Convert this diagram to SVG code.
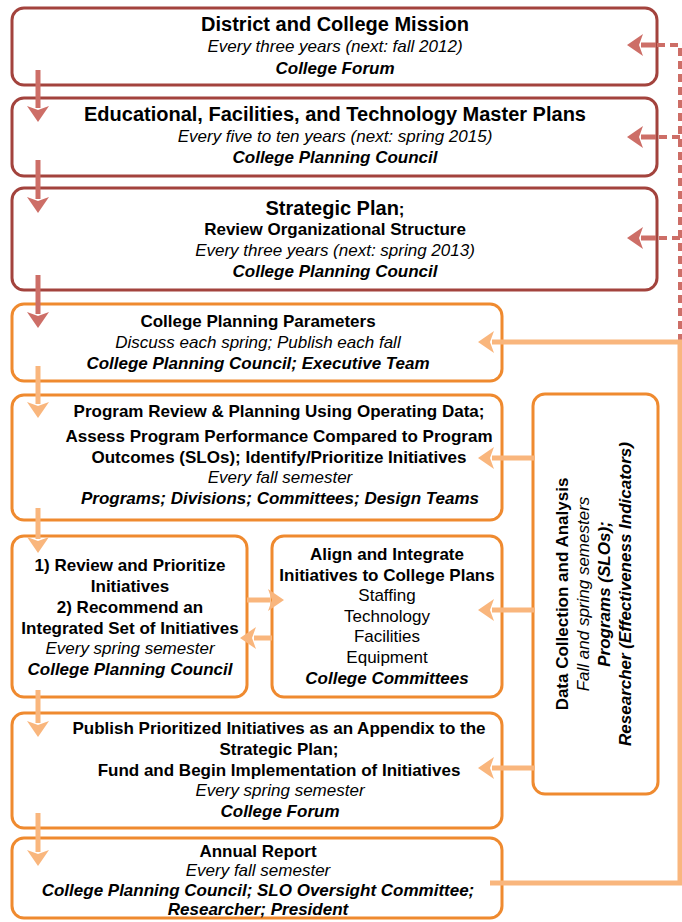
<svg xmlns="http://www.w3.org/2000/svg" width="682" height="922" viewBox="0 0 682 922">
<defs>
<style>
.red{fill:#fff;stroke:#a3433d;stroke-width:3}
.org{fill:#fff;stroke:#ef8a2f;stroke-width:3}
text{font-family:"Liberation Sans",Arial,sans-serif;font-size:17px;fill:#000;text-anchor:middle}
.t{font-size:20px;font-weight:bold}
.b{font-weight:bold}
.i{font-style:italic}
.bi{font-weight:bold;font-style:italic}
.ra{stroke:#cd6e67;stroke-width:5;fill:none}
.oa{stroke:#f9b67d;stroke-width:5;fill:none}
.dash{stroke:#cd6e67;stroke-width:4;fill:none;stroke-dasharray:8 5}
</style>
<marker id="mr" markerUnits="userSpaceOnUse" markerWidth="16" markerHeight="22" viewBox="0 0 16 22" refX="2" refY="11" orient="auto">
<path d="M0,0 L16,11 L0,22 L4,11 Z" fill="#cd6e67"/>
</marker>
<marker id="mo" markerUnits="userSpaceOnUse" markerWidth="16" markerHeight="22" viewBox="0 0 16 22" refX="2" refY="11" orient="auto">
<path d="M0,0 L16,11 L0,22 L4,11 Z" fill="#f9b67d"/>
</marker>
</defs>

<g id="n1">
<rect class="red" x="12" y="8" width="645" height="77" rx="12"/>
<text class="t" x="335" y="31">District and College Mission</text>
<text class="i" x="335" y="52">Every three years (next: fall 2012)</text>
<text class="bi" x="335" y="74">College Forum</text>
</g>
<g id="n2">
<rect class="red" x="12" y="98" width="645" height="78" rx="12"/>
<text class="t" x="335" y="121">Educational, Facilities, and Technology Master Plans</text>
<text class="i" x="335" y="142">Every five to ten years (next: spring 2015)</text>
<text class="bi" x="335" y="163">College Planning Council</text>
</g>
<g id="n3">
<rect class="red" x="12" y="188" width="645" height="102" rx="12"/>
<text x="335" y="215"><tspan class="t">Strategic Plan</tspan><tspan class="b">;</tspan></text>
<text class="b" x="335" y="235">Review Organizational Structure</text>
<text class="i" x="335" y="256">Every three years (next: spring 2013)</text>
<text class="bi" x="335" y="277">College Planning Council</text>
</g>
<g id="n4">
<rect class="org" x="12" y="304" width="490" height="77" rx="12"/>
<text class="b" x="258" y="327">College Planning Parameters</text>
<text class="i" x="258" y="348">Discuss each spring; Publish each fall</text>
<text class="bi" x="258" y="369">College Planning Council; Executive Team</text>
</g>
<g id="n5">
<rect class="org" x="12" y="395" width="490" height="125" rx="12"/>
<text class="b" x="279" y="417">Program Review &amp; Planning Using Operating Data;</text>
<text class="b" x="279" y="442">Assess Program Performance Compared to Program</text>
<text class="b" x="279" y="463">Outcomes (SLOs); Identify/Prioritize Initiatives</text>
<text class="i" x="280" y="483">Every fall semester</text>
<text class="bi" x="280" y="504">Programs; Divisions; Committees; Design Teams</text>
</g>
<g id="n6">
<rect class="org" x="12" y="536" width="235" height="161" rx="12"/>
<text class="b" x="130" y="571">1) Review and Prioritize</text>
<text class="b" x="130" y="592">Initiatives</text>
<text class="b" x="130" y="613">2) Recommend an</text>
<text class="b" x="130" y="634">Integrated Set of Initiatives</text>
<text class="i" x="130" y="654">Every spring semester</text>
<text class="bi" x="130" y="675">College Planning Council</text>
</g>
<g id="n7">
<rect class="org" x="272" y="536" width="230" height="161" rx="12"/>
<text class="b" x="387" y="560">Align and Integrate</text>
<text class="b" x="387" y="581">Initiatives to College Plans</text>
<text x="387" y="601">Staffing</text>
<text x="387" y="622">Technology</text>
<text x="387" y="642">Facilities</text>
<text x="387" y="663">Equipment</text>
<text class="bi" x="387" y="684">College Committees</text>
</g>
<g id="n8">
<rect class="org" x="12" y="713" width="490" height="115" rx="12"/>
<text class="b" x="279" y="734">Publish Prioritized Initiatives as an Appendix to the</text>
<text class="b" x="279" y="755">Strategic Plan;</text>
<text class="b" x="279" y="776">Fund and Begin Implementation of Initiatives</text>
<text class="i" x="280" y="796">Every spring semester</text>
<text class="bi" x="280" y="817">College Forum</text>
</g>
<g id="n9">
<rect class="org" x="12" y="838" width="490" height="80" rx="12"/>
<text class="b" x="258" y="857">Annual Report</text>
<text class="i" x="258" y="876">Every fall semester</text>
<text class="bi" x="258" y="896">College Planning Council; SLO Oversight Committee;</text>
<text class="bi" x="258" y="915">Researcher; President</text>
</g>
<g id="n10">
<rect class="org" x="533" y="394" width="125" height="400" rx="12"/>
<g transform="translate(594,594) rotate(-90)">
<text class="b" x="0" y="-26">Data Collection and Analysis</text>
<text class="i" x="0" y="-5">Fall and spring semesters</text>
<text class="bi" x="0" y="16">Programs (SLOs);</text>
<text class="bi" x="0" y="37">Researcher (Effectiveness Indicators)</text>
</g>
</g>

<g id="connectors">
<path class="ra" d="M38,70 V108" marker-end="url(#mr)"/>
<path class="ra" d="M38,160 V199" marker-end="url(#mr)"/>
<path class="ra" d="M38,275 V314" marker-end="url(#mr)"/>
<path class="oa" d="M38,366 V404" marker-end="url(#mo)"/>
<path class="oa" d="M38,508 V539" marker-end="url(#mo)"/>
<path class="oa" d="M38,690 V723" marker-end="url(#mo)"/>
<path class="oa" d="M38,813 V852" marker-end="url(#mo)"/>
<path class="dash" d="M680,342 V45 H656"/>
<path class="dash" d="M680,137 H656"/>
<path class="dash" d="M680,238 H656"/>
<path d="M656,45 H641" stroke="#cd6e67" stroke-width="5" marker-end="url(#mr)"/>
<path d="M656,137 H641" stroke="#cd6e67" stroke-width="5" marker-end="url(#mr)"/>
<path d="M656,238 H641" stroke="#cd6e67" stroke-width="5" marker-end="url(#mr)"/>
<path class="oa" d="M490,883 H680 V342 H492" marker-end="url(#mo)"/>
<path class="oa" d="M535,458 H492" marker-end="url(#mo)"/>
<path class="oa" d="M535,610 H492" marker-end="url(#mo)"/>
<path class="oa" d="M535,768 H492" marker-end="url(#mo)"/>
<path class="oa" d="M247,600 H270" marker-end="url(#mo)"/>
<path class="oa" d="M272,638 H254" marker-end="url(#mo)"/>
</g>
</svg>
